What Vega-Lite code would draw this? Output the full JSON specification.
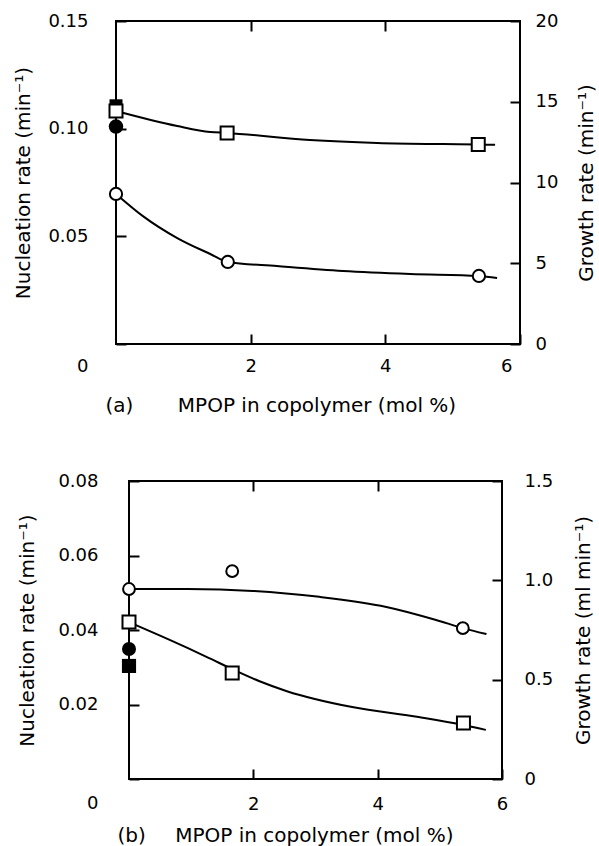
{
  "$schema": "https://vega.github.io/schema/vega-lite/v6.json",
  "padding": {"left": 11, "top": 11, "right": 0, "bottom": 0},
  "spacing": 55,
  "datasets": {
    "a_nuc": [
      {"x": 0, "y": 0.0697, "kind": "fit"},
      {"x": 0.4, "y": 0.0594, "kind": "fit"},
      {"x": 0.91, "y": 0.0492, "kind": "fit"},
      {"x": 1.4, "y": 0.0418, "kind": "fit"},
      {"x": 1.66, "y": 0.0381, "kind": "fit"},
      {"x": 2.39, "y": 0.0362, "kind": "fit"},
      {"x": 3.37, "y": 0.0339, "kind": "fit"},
      {"x": 4.37, "y": 0.0325, "kind": "fit"},
      {"x": 5.39, "y": 0.0316, "kind": "fit"},
      {"x": 5.66, "y": 0.0307, "kind": "fit"},
      {"x": 0, "y": 0.0697, "kind": "open"},
      {"x": 1.66, "y": 0.0381, "kind": "open"},
      {"x": 5.39, "y": 0.0316, "kind": "open"},
      {"x": 0, "y": 0.101, "kind": "filled"}
    ],
    "a_growth": [
      {"x": 0, "y": 14.43, "kind": "fit"},
      {"x": 0.91, "y": 13.5, "kind": "fit"},
      {"x": 1.4, "y": 13.13, "kind": "fit"},
      {"x": 1.65, "y": 13.07, "kind": "fit"},
      {"x": 2.88, "y": 12.63, "kind": "fit"},
      {"x": 3.88, "y": 12.45, "kind": "fit"},
      {"x": 4.86, "y": 12.38, "kind": "fit"},
      {"x": 5.38, "y": 12.36, "kind": "fit"},
      {"x": 5.63, "y": 12.33, "kind": "fit"},
      {"x": 0, "y": 14.75, "kind": "filled"},
      {"x": 0, "y": 14.43, "kind": "open"},
      {"x": 1.65, "y": 13.07, "kind": "open"},
      {"x": 5.38, "y": 12.36, "kind": "open"}
    ],
    "b_nuc": [
      {"x": 0, "y": 0.051, "kind": "fit"},
      {"x": 0.94, "y": 0.051, "kind": "fit"},
      {"x": 1.99, "y": 0.0505, "kind": "fit"},
      {"x": 3.06, "y": 0.0489, "kind": "fit"},
      {"x": 4.14, "y": 0.0462, "kind": "fit"},
      {"x": 4.94, "y": 0.0427, "kind": "fit"},
      {"x": 5.37, "y": 0.0405, "kind": "fit"},
      {"x": 5.75, "y": 0.0389, "kind": "fit"},
      {"x": 0, "y": 0.051, "kind": "open"},
      {"x": 1.66, "y": 0.0558, "kind": "open"},
      {"x": 5.37, "y": 0.0405, "kind": "open"},
      {"x": 0, "y": 0.0349, "kind": "filled"}
    ],
    "b_growth": [
      {"x": 0, "y": 0.79, "kind": "fit"},
      {"x": 0.5, "y": 0.722, "kind": "fit"},
      {"x": 0.94, "y": 0.66, "kind": "fit"},
      {"x": 1.3, "y": 0.607, "kind": "fit"},
      {"x": 1.66, "y": 0.553, "kind": "fit"},
      {"x": 2.1, "y": 0.492, "kind": "fit"},
      {"x": 2.54, "y": 0.442, "kind": "fit"},
      {"x": 3.59, "y": 0.362, "kind": "fit"},
      {"x": 4.66, "y": 0.312, "kind": "fit"},
      {"x": 5.38, "y": 0.272, "kind": "fit"},
      {"x": 5.74, "y": 0.247, "kind": "fit"},
      {"x": 0, "y": 0.569, "kind": "filled"},
      {"x": 0, "y": 0.79, "kind": "open"},
      {"x": 1.66, "y": 0.534, "kind": "open"},
      {"x": 5.38, "y": 0.282, "kind": "open"}
    ]
  },
  "vconcat": [
    {
      "spacing": 0,
      "hconcat": [
        {"width": 1, "height": 1, "view": {"stroke": null, "fill": null}, "data": {"values": []}, "mark": {"type": "point", "opacity": 0}},
        {
          "width": 404,
          "height": 323,
          "layer": [
            {
              "data": {"name": "a_nuc"},
              "encoding": {
                "x": {"field": "x", "type": "quantitative", "scale": {"domain": [0, 6], "nice": false},
                  "axis": {"orient": "bottom", "values": [2, 4, 6], "labelPadding": 23, "labelFlush": true, "labelFlushOffset": -8,
                    "title": "(a)\u00a0\u00a0\u00a0\u00a0\u00a0\u00a0\u00a0MPOP in copolymer (mol %)",
                    "titleX": -11, "titleY": 61, "titleAlign": "left", "titleBaseline": "middle"}},
                "y": {"field": "y", "type": "quantitative", "scale": {"domain": [0, 0.15], "nice": false},
                  "axis": {"orient": "left", "values": [0, 0.05, 0.1, 0.15], "labelPadding": 38,
                    "labelExpr": "datum.value === 0 ? '0' : format(datum.value, '.2f')",
                    "labelOffset": {"condition": {"test": "datum.value === 0", "value": 22}, "value": 0},
                    "title": "Nucleation rate (min\u207b\u00b9)", "titleX": -93, "titleBaseline": "middle", "titleAngle": 270}}
              },
              "layer": [
                {"transform": [{"filter": "datum.kind === 'fit'"}], "mark": {"type": "line", "interpolate": "monotone", "color": "black", "strokeWidth": 2}},
                {"transform": [{"filter": "datum.kind === 'filled'"}], "mark": {"type": "point", "shape": "circle", "filled": true, "color": "black", "opacity": 1, "size": 210}},
                {"transform": [{"filter": "datum.kind === 'open'"}], "mark": {"type": "point", "shape": "circle", "filled": true, "fill": "white", "stroke": "black", "strokeWidth": 2, "opacity": 1, "size": 150}}
              ]
            },
            {
              "data": {"name": "a_growth"},
              "encoding": {
                "x": {"field": "x", "type": "quantitative", "scale": {"domain": [0, 6], "nice": false},
                  "axis": {"orient": "top", "values": [2, 4], "labels": false, "title": null}},
                "y": {"field": "y", "type": "quantitative", "scale": {"domain": [0, 20], "nice": false},
                  "axis": {"orient": "right", "values": [0, 5, 10, 15, 20], "labelPadding": 25,
                    "title": "Growth rate (min\u207b\u00b9)", "titleX": 66, "titleBaseline": "middle", "titleAngle": 270}}
              },
              "layer": [
                {"transform": [{"filter": "datum.kind === 'fit'"}], "mark": {"type": "line", "interpolate": "monotone", "color": "black", "strokeWidth": 2}},
                {"transform": [{"filter": "datum.kind === 'filled'"}], "mark": {"type": "point", "shape": "square", "filled": true, "color": "black", "opacity": 1, "size": 169}},
                {"transform": [{"filter": "datum.kind === 'open'"}], "mark": {"type": "point", "shape": "square", "filled": true, "fill": "white", "stroke": "black", "strokeWidth": 2, "opacity": 1, "size": 169}}
              ]
            }
          ],
          "resolve": {"scale": {"y": "independent"}, "axis": {"x": "independent", "y": "independent"}}
        }
      ]
    },
    {
      "spacing": 0,
      "hconcat": [
        {"width": 5, "height": 1, "view": {"stroke": null, "fill": null}, "data": {"values": []}, "mark": {"type": "point", "opacity": 0}},
        {
          "width": 373,
          "height": 298,
          "layer": [
            {
              "data": {"name": "b_nuc"},
              "encoding": {
                "x": {"field": "x", "type": "quantitative", "scale": {"domain": [0, 6], "nice": false},
                  "axis": {"orient": "bottom", "values": [2, 4, 6], "labelPadding": 26, "labelFlush": false,
                    "title": "(b)\u00a0\u00a0\u00a0\u00a0\u2009MPOP in copolymer (mol %)",
                    "titleX": -12, "titleY": 56, "titleAlign": "left", "titleBaseline": "middle"}},
                "y": {"field": "y", "type": "quantitative", "scale": {"domain": [0, 0.08], "nice": false},
                  "axis": {"orient": "left", "values": [0, 0.02, 0.04, 0.06, 0.08], "labelPadding": 41,
                    "labelExpr": "datum.value === 0 ? '0' : format(datum.value, '.2f')",
                    "labelOffset": {"condition": {"test": "datum.value === 0", "value": 24}, "value": 0},
                    "title": "Nucleation rate (min\u207b\u00b9)", "titleX": -102, "titleBaseline": "middle", "titleAngle": 270}}
              },
              "layer": [
                {"transform": [{"filter": "datum.kind === 'fit'"}], "mark": {"type": "line", "interpolate": "monotone", "color": "black", "strokeWidth": 2}},
                {"transform": [{"filter": "datum.kind === 'filled'"}], "mark": {"type": "point", "shape": "circle", "filled": true, "color": "black", "opacity": 1, "size": 196}},
                {"transform": [{"filter": "datum.kind === 'open'"}], "mark": {"type": "point", "shape": "circle", "filled": true, "fill": "white", "stroke": "black", "strokeWidth": 2, "opacity": 1, "size": 140}}
              ]
            },
            {
              "data": {"name": "b_growth"},
              "encoding": {
                "x": {"field": "x", "type": "quantitative", "scale": {"domain": [0, 6], "nice": false},
                  "axis": {"orient": "top", "values": [2, 4], "labels": false, "title": null}},
                "y": {"field": "y", "type": "quantitative", "scale": {"domain": [0, 1.5], "nice": false},
                  "axis": {"orient": "right", "values": [0, 0.5, 1, 1.5], "labelPadding": 32,
                    "labelExpr": "datum.value === 0 ? '0' : format(datum.value, '.1f')",
                    "title": "Growth rate (ml min\u207b\u00b9)", "titleX": 81, "titleBaseline": "middle", "titleAngle": 270}}
              },
              "layer": [
                {"transform": [{"filter": "datum.kind === 'fit'"}], "mark": {"type": "line", "interpolate": "monotone", "color": "black", "strokeWidth": 2}},
                {"transform": [{"filter": "datum.kind === 'filled'"}], "mark": {"type": "point", "shape": "square", "filled": true, "color": "black", "opacity": 1, "size": 200}},
                {"transform": [{"filter": "datum.kind === 'open'"}], "mark": {"type": "point", "shape": "square", "filled": true, "fill": "white", "stroke": "black", "strokeWidth": 2, "opacity": 1, "size": 169}}
              ]
            }
          ],
          "resolve": {"scale": {"y": "independent"}, "axis": {"x": "independent", "y": "independent"}}
        }
      ]
    }
  ],
  "config": {
    "font": "DejaVu Sans",
    "view": {"stroke": "black", "strokeWidth": 2},
    "axis": {
      "domain": false, "grid": false,
      "ticks": true, "tickColor": "black", "tickWidth": 2, "tickSize": -10,
      "labelColor": "black", "labelFont": "DejaVu Sans", "labelFontSize": 18,
      "labelOverlap": false, "labelBound": false,
      "titleColor": "black", "titleFont": "DejaVu Sans", "titleFontSize": 20, "titleFontWeight": "normal"
    }
  }
}
